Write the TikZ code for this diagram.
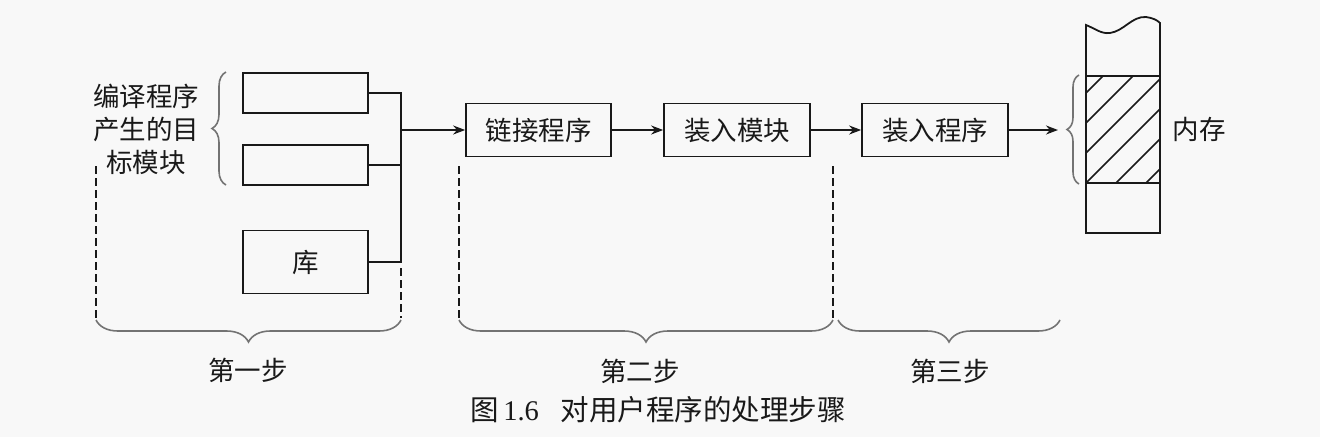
\documentclass[tikz,border=0pt]{standalone}
\usepackage{fontspec}
\setmainfont{Liberation Serif}
\newfontfamily\cjk{Noto Sans CJK SC}
\usetikzlibrary{arrows.meta,decorations.pathreplacing}
\definecolor{bg}{RGB}{248,248,248}
\definecolor{ink}{RGB}{25,25,25}
\definecolor{brc}{RGB}{115,115,115}
\begin{document}
\begin{tikzpicture}[x=1pt,y=-1pt,
  every node/.style={font=\cjk\fontsize{26.5}{33}\selectfont, text=ink, inner sep=0pt},
  box/.style={draw=ink, line width=1.7pt, rectangle, minimum height=53pt},
  conn/.style={draw=ink, line width=1.8pt},
  arr/.style={conn, -{Stealth[length=12pt,width=9pt]}},
  dashline/.style={draw=ink, line width=1.6pt, dash pattern=on 8pt off 4pt},
  brc/.style={draw=brc, line width=1.6pt, decorate, decoration={brace, amplitude=14pt}}]
\fill[bg] (0,0) rectangle (1320,437);
\useasboundingbox (0,0) rectangle (1320,437);

% left object modules
\node[box, minimum width=125pt, minimum height=40pt] (b1) at (305.5,93) {};
\node[box, minimum width=125pt, minimum height=40pt] (b2) at (305.5,165) {};
\node[box, minimum width=125pt, minimum height=63pt] (lib) at (305.5,262) {库};
\node[align=center] (src) at (146,129) {编译程序\\产生的目\\标模块};
\draw[brc, decoration={brace, amplitude=14pt}] (226,185) -- (226,72);

% bus
\coordinate (bt) at (401,93);
\coordinate (bb) at (401,262);
\coordinate (bj) at (401,130);
\draw[conn] (b1.east) -- (bt) -- (bb) -- (lib.east);
\draw[conn] (b2.east) -- (b2.east -| bt);

% main chain
\node[box, minimum width=145pt] (link) at (538.5,130) {链接程序};
\node[box, minimum width=146pt] (mod) at (737,130) {装入模块};
\node[box, minimum width=146pt] (load) at (935,130) {装入程序};
\draw[arr] (bj) -- (link.west);
\draw[arr] (link.east) -- (mod.west);
\draw[arr] (mod.east) -- (load.west);
\coordinate (memb) at (1058,130);
\draw[arr] (load.east) -- (memb);

% memory
\draw[brc, decoration={brace, amplitude=12pt}] (1079,184) -- (1079,75);
\begin{scope}
\clip (1086,76) rectangle (1160,183);
\foreach \c in {1179,1209,...,1329} \draw[ink, line width=1.5pt] (\c-183,183) -- (\c-76,76);
\end{scope}
\draw[ink, line width=1.8pt] (1086,233) -- (1086,25)
  .. controls (1096,29) and (1101,34) .. (1110,33)
  .. controls (1124,31) and (1132,16) .. (1146,17)
  .. controls (1153,18) and (1157,20) .. (1160,23) -- (1160,233) -- cycle;
\draw[ink, line width=1.7pt] (1086,76) -- (1160,76);
\draw[ink, line width=1.7pt] (1086,183) -- (1160,183);
\node (memlbl) at (1199,129) {内存};

% dashed delimiters
\draw[dashline] (96,166) -- (96,318);
\draw[dashline] (401,268) -- (401,318);
\draw[dashline] (459,166) -- (459,320);
\draw[dashline] (833,166) -- (833,320);

% step braces
\draw[brc, decoration={brace, mirror, amplitude=22pt}] (96,320) -- (401,320);
\draw[brc, decoration={brace, mirror, amplitude=22pt}] (459,320) -- (833,320);
\draw[brc, decoration={brace, mirror, amplitude=22pt}] (838,320) -- (1060,320);
\node (s1) at (248,370) {第一步};
\node (s2) at (640,371) {第二步};
\node (s3) at (950,371) {第三步};

% caption
\node[font=\cjk\fontsize{28.5}{34}\selectfont] (cap) at (658,410) {图\,{\rmfamily 1.6}\hspace{22pt}对用户程序的处理步骤};
\end{tikzpicture}
\end{document}
